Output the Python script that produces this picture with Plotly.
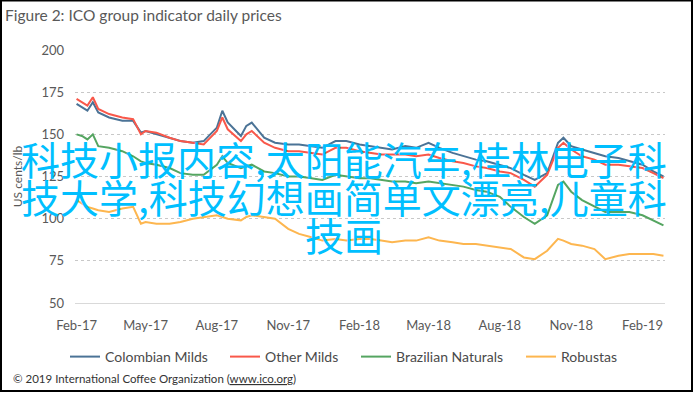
import plotly.graph_objects as go

dates = ["2017-02-01","2017-02-08","2017-02-15","2017-02-22","2017-03-01","2017-03-15","2017-04-01","2017-04-15","2017-04-25","2017-05-01",
         "2017-05-15","2017-06-01","2017-06-15","2017-07-01","2017-07-15","2017-08-01","2017-08-08","2017-08-15","2017-09-01","2017-09-08",
         "2017-09-15","2017-10-01","2017-10-15","2017-11-01","2017-11-15","2017-12-01","2017-12-15","2018-01-01","2018-01-15","2018-02-01",
         "2018-02-15","2018-03-01","2018-03-15","2018-04-01","2018-04-15","2018-05-01","2018-05-15","2018-06-01","2018-06-15","2018-07-01",
         "2018-07-15","2018-08-01","2018-08-15","2018-09-01","2018-09-15","2018-10-01","2018-10-15","2018-10-22","2018-11-01","2018-11-15",
         "2018-12-01","2018-12-15","2019-01-01","2019-01-15","2019-02-01","2019-02-15","2019-02-28"]

colombian_milds = [168,166,164,169,163,160,158,158,151,152,
                   150,148,146,145,146,154,164,157,149,155,
                   157,148,145,144,144,143,142,146,146,144,
                   143,142,141,143,142,145,142,139,137,135,
                   134,132,130,126,123,127,145,148,143,141,
                   139,137,136,134,132,128,125]
other_milds = [171,169,167,172,165,162,160,159,150,152,
               151,148,146,145,144,152,160,153,146,150,
               152,145,142,140,140,139,138,142,142,140,
               139,138,138,138,137,138,136,134,133,131,
               130,128,127,123,119,126,142,145,141,137,
               135,132,132,131,130,127,124]
brazilian_naturals = [150,149,147,150,143,142,140,137,134,133,
                      132,130,127,126,126,132,137,133,130,131,
                      132,128,127,125,125,124,123,126,125,124,
                      124,123,122,122,121,122,121,120,119,117,
                      116,113,107,101,97,102,120,122,116,111,
                      107,104,104,104,102,99,96]
robustas = [111,109,107,106,105,104,106,107,97,98,
            97,97,98,100,101,102,101,100,99,101,
            102,101,100,94,91,89,87,88,87,88,
            88,87,86,87,87,89,87,86,85,85,
            84,83,82,77,76,81,88,87,85,84,
            82,76,78,79,79,79,78]

series_names = ["Colombian Milds", "Other Milds", "Brazilian Naturals", "Robustas"]
series_values = [colombian_milds, other_milds, brazilian_naturals, robustas]
series_colors = ["#4b7396", "#f9584a", "#55a561", "#fdb64f"]

y_ticks = [50, 75, 100, 125, 150, 175, 200]

title_text = "Figure 2: ICO group indicator daily prices"
y_title = "US cents/lb"
footer_text = "© 2019 International Coffee Organization (<u>www.ico.org</u>)"
overlay_lines = ["科技小报内容,太阳能汽车,桂林电子科", "技大学,科技幻想画简单文漂亮,儿童科", "技画"]

W, H = 695, 394
L, R, T, B = 75, 30, 50, 91
PW = W - L - R
PH = H - T - B

def fx(x):
    return (x - L) / PW

def fy(y):
    return (H - B - y) / PH

font_main = "Lato, Open Sans, sans-serif"
cjk = "Noto Sans CJK SC"

legend_ids = ["legend", "legend2", "legend3", "legend4"]
legend_left_px = [65, 225, 356, 521]

fig = go.Figure()
for name, vals, col, lid in zip(series_names, series_values, series_colors, legend_ids):
    fig.add_trace(go.Scatter(x=dates, y=vals, mode="lines", name=name, legend=lid,
                             line=dict(color=col, width=2)))

legend_layout = {}
for lid, lx in zip(legend_ids, legend_left_px):
    legend_layout[lid] = dict(orientation="h", x=fx(lx), xanchor="left", y=fy(357), yanchor="middle",
                              font=dict(family=font_main, size=14, color="#4a4a4a"), itemwidth=30,
                              bgcolor="rgba(0,0,0,0)", borderwidth=0)

fig.update_layout(
    width=W, height=H,
    margin=dict(l=L, r=R, t=T, b=B),
    paper_bgcolor="white", plot_bgcolor="white",
    font=dict(family=font_main, size=13, color="#595959"),
    showlegend=True,
    xaxis=dict(type="date", range=["2017-01-30", "2019-03-02"], tick0="2017-02-01", dtick="M3",
               tickformat="%b-%y", showgrid=False, showline=True, linecolor="#d9d9d9", linewidth=1,
               ticks="", ticklabelstandoff=10, tickfont=dict(size=13, color="#595959")),
    yaxis=dict(range=[50, 200], tickvals=y_ticks, showgrid=True, gridcolor="#c8c8c8",
               griddash="dot", gridwidth=1, zeroline=False, showline=False, ticks="",
               ticklabelstandoff=10, tickfont=dict(size=13, color="#595959"),
               title=dict(text=y_title, font=dict(size=12, color="#595959"), standoff=16)),
    **legend_layout,
)

annotations = [
    dict(text=title_text, x=fx(3), y=fy(15), xref="paper", yref="paper", xanchor="left",
         yanchor="middle", showarrow=False, font=dict(family=font_main, size=15.5, color="#595959")),
    dict(text=footer_text, x=fx(11), y=fy(378), xref="paper", yref="paper", xanchor="left",
         yanchor="middle", showarrow=False, font=dict(family=font_main, size=11.5, color="#333333")),
]
for line, ycen in zip(overlay_lines, [158, 196, 234]):
    annotations.append(dict(text=line, x=fx(343.5), y=fy(ycen), xref="paper", yref="paper",
                            xanchor="center", yanchor="middle", showarrow=False,
                            font=dict(family=cjk, size=39, color="#00bfff")))
fig.update_layout(annotations=annotations)

fig.add_shape(type="rect", xref="paper", yref="paper", x0=fx(1), x1=fx(692), y0=fy(391), y1=fy(0.5),
              line=dict(color="black", width=2), fillcolor="rgba(0,0,0,0)", layer="above")

fig.write_html("out.html", config={"displayModeBar": False},
               post_script="document.body.style.margin='0';document.body.style.overflow='hidden';")
